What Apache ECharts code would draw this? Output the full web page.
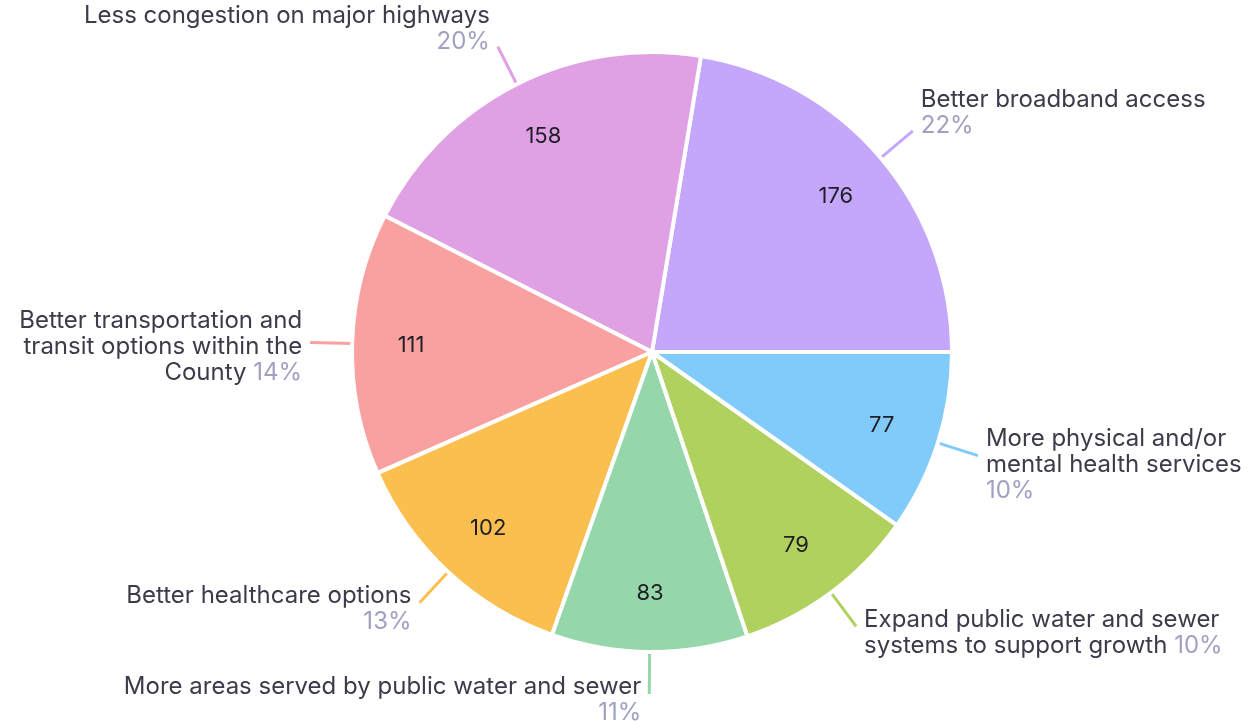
<!DOCTYPE html>
<html>
<head>
<meta charset="utf-8">
<script src="https://cdn.jsdelivr.net/npm/echarts@6/dist/echarts.min.js"></script>
<style>
html,body{margin:0;padding:0;background:#fff;}
#chart{width:1255px;height:721px;}
</style>
</head>
<body>
<div id="chart"></div>
<script>
const categories = [
  'Better broadband access',
  'Less congestion on major highways',
  'Better transportation and\ntransit options within the\nCounty',
  'Better healthcare options',
  'More areas served by public water and sewer',
  'Expand public water and sewer\nsystems to support growth',
  'More physical and/or\nmental health services'
];
const values = [176, 158, 111, 102, 83, 79, 77];
const pctSeparators = ['\n', '\n', ' ', '\n', '\n', ' ', '\n'];
const colors = ['#c4a6fb', '#e0a0e4', '#f9a1a0', '#fbbf50', '#95d7aa', '#b0d15e', '#80cbfa'];

const data = categories.map((c, i) => ({ name: c, value: values[i], itemStyle: { color: colors[i] }, labelLine: { lineStyle: { color: colors[i] } } }));

const FONT = 'Inter, "Noto Sans", sans-serif';
const CY = 352;
const chart = echarts.init(document.getElementById('chart'));
chart.setOption({
  animation: false,
  series: [
    {
      type: 'pie',
      center: [652, CY],
      radius: 300,
      startAngle: 0,
      clockwise: false,
      percentPrecision: 0,
      avoidLabelOverlap: false,
      data: data,
      itemStyle: { borderColor: '#fff', borderWidth: 4 },
      label: {
        show: true,
        position: 'outside',
        distanceToLabelLine: 8,
        fontFamily: FONT,
        fontSize: 24,
        formatter: p => {
          const sep = pctSeparators[p.dataIndex];
          return sep === '\n'
            ? '{n|' + p.name + '}\n{p|' + p.percent + '%}'
            : '{n|' + p.name + ' }{p|' + p.percent + '%}';
        },
        rich: {
          n: { fontFamily: FONT, fontSize: 24, color: '#3b3b4a', lineHeight: 26 },
          p: { fontFamily: FONT, fontSize: 24, color: '#a0a0c2', lineHeight: 26 }
        }
      },
      labelLayout: function (params) {
        const pts = params.labelLinePoints;
        if (!pts) return {};
        const end = pts[pts.length - 1];
        const h = params.labelRect.height;
        if (end[1] < CY - 120) return { dy: -0.35 * h };
        if (end[1] > CY + 60) return { dy: 0.12 * h };
        return { dy: 0.06 * h };
      },
      labelLine: { show: true, length: 42, length2: 0, smooth: false, lineStyle: { width: 3 } },
      emphasis: { disabled: true }
    },
    {
      type: 'pie',
      center: [652, CY],
      radius: [176, 300],
      startAngle: 0,
      clockwise: false,
      silent: true,
      data: categories.map((c, i) => ({ name: c, value: values[i] })),
      itemStyle: { color: 'rgba(0,0,0,0)', borderWidth: 0 },
      label: {
        show: true,
        position: 'inside',
        formatter: '{c}',
        fontFamily: FONT,
        fontSize: 22,
        color: '#1e1e24'
      },
      labelLine: { show: false },
      emphasis: { disabled: true }
    }
  ]
});
</script>
</body>
</html>
